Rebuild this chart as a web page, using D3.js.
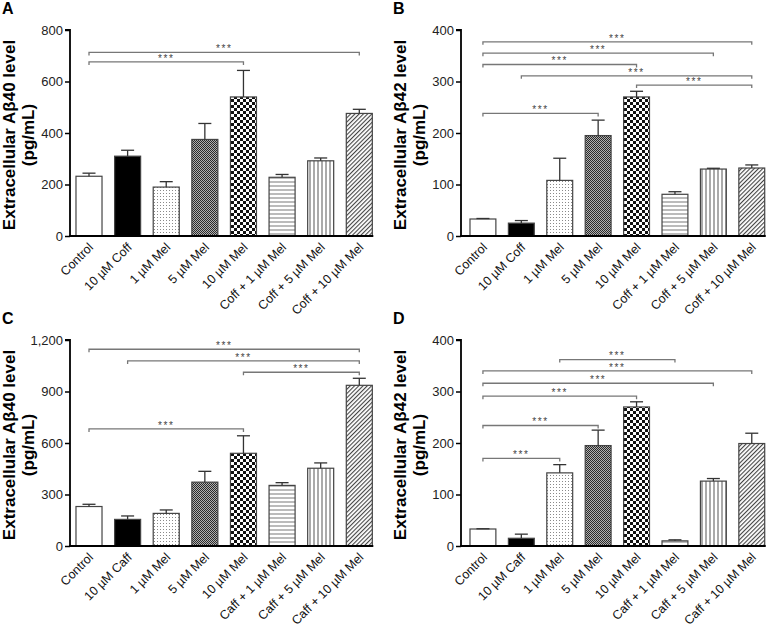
<!DOCTYPE html>
<html>
<head>
<meta charset="utf-8">
<script src="https://cdn.jsdelivr.net/npm/d3@7"></script>
<style>
  html, body { margin: 0; padding: 0; background: #fff; }
  svg { display: block; font-family: "Liberation Sans", Arial, Helvetica, sans-serif; }
</style>
</head>
<body>
<svg id="chart" width="774" height="629"></svg>
<script>
// ---------------- DATA ----------------
const categoriesAB = ["Control", "10 µM Coff", "1 µM Mel", "5 µM Mel", "10 µM Mel", "Coff + 1 µM Mel", "Coff + 5 µM Mel", "Coff + 10 µM Mel"];
const categoriesCD = ["Control", "10 µM Caff", "1 µM Mel", "5 µM Mel", "10 µM Mel", "Caff + 1 µM Mel", "Caff + 5 µM Mel", "Caff + 10 µM Mel"];

const valuesA = [232, 310, 190, 375, 540, 228, 292, 476];
const errorsA = [12, 23, 21, 62, 103, 11, 11, 16];
const valuesB = [33, 25, 108, 195, 270, 81, 130, 132];
const errorsB = [1, 5, 43, 30, 11, 5, 1.5, 6];
const valuesC = [230, 155, 190, 372, 540, 353, 453, 936];
const errorsC = [13, 20, 20, 63, 102, 16, 31, 41];
const valuesD = [33, 15, 142, 195, 270, 10, 126, 199];
const errorsD = [0.5, 8, 16, 30, 10, 2, 5, 20];

const ticksA = [0, 200, 400, 600, 800];
const ticksB = [0, 100, 200, 300, 400];
const ticksC = [0, 300, 600, 900, 1200];
const ticksD = [0, 100, 200, 300, 400];

// significance brackets: [from index, to index, level in data units]
const bracketsA = [[0, 7, 713], [0, 4, 676]];
const bracketsB = [[0, 7, 377], [0, 6, 355], [0, 4, 333], [1, 7, 311], [4, 7, 293], [0, 3, 238]];
const bracketsC = [[0, 7, 1146], [1, 7, 1078], [4, 7, 1012], [0, 4, 682]];
const bracketsD = [[2, 5, 362], [0, 7, 340], [0, 6, 316], [0, 4, 291], [0, 3, 234], [0, 2, 170]];

const panelLetters = ["A", "B", "C", "D"];
const yTitles = ["Extracellular Aβ40 level", "Extracellular Aβ42 level", "Extracellular Aβ40 level", "Extracellular Aβ42 level"];
const yUnit = "(pg/mL)";
const sigLabel = "***";

// ---------------- DRAW ----------------
const svg = d3.select("#chart");
const defs = svg.append("defs");

// patterns
function pat(id, w, h, build, transform) {
  const p = defs.append("pattern").attr("id", id).attr("patternUnits", "userSpaceOnUse")
    .attr("width", w).attr("height", h);
  if (transform) p.attr("patternTransform", transform);
  p.append("rect").attr("width", w).attr("height", h).attr("fill", "#fff");
  build(p);
}
pat("pDots", 3, 3, p => p.append("rect").attr("x", 1).attr("y", 1).attr("width", 1).attr("height", 1).attr("fill", "#8a8a8a"));
pat("pFine", 2, 2, p => {
  p.append("rect").attr("width", 2).attr("height", 2).attr("fill", "#b0b0b0");
  p.append("rect").attr("x", 0).attr("y", 0).attr("width", 1).attr("height", 1).attr("fill", "#2a2a2a");
  p.append("rect").attr("x", 1).attr("y", 1).attr("width", 1).attr("height", 1).attr("fill", "#2a2a2a");
});
pat("pChecker", 6, 6, p => {
  p.append("rect").attr("x", 0).attr("y", 0).attr("width", 3).attr("height", 3).attr("fill", "#111");
  p.append("rect").attr("x", 3).attr("y", 3).attr("width", 3).attr("height", 3).attr("fill", "#111");
});
pat("pHoriz", 4, 4, p => p.append("rect").attr("x", 0).attr("y", 1.5).attr("width", 4).attr("height", 1).attr("fill", "#777"));
pat("pVert", 4, 4, p => p.append("rect").attr("x", 1.5).attr("y", 0).attr("width", 1).attr("height", 4).attr("fill", "#555"));
pat("pDiag", 3, 3, p => p.append("rect").attr("x", 1).attr("y", 0).attr("width", 1.1).attr("height", 3).attr("fill", "#444"), "rotate(45)");

const fills = ["#ffffff", "#000000", "url(#pDots)", "url(#pFine)", "url(#pChecker)", "url(#pHoriz)", "url(#pVert)", "url(#pDiag)"];

const panels = [
  { cats: categoriesAB, vals: valuesA, errs: errorsA, ticks: ticksA, br: bracketsA, ax: 70, top: 30, bottom: 236, end: 378.3, po: 0.155, fmt: d3.format("d") },
  { cats: categoriesAB, vals: valuesB, errs: errorsB, ticks: ticksB, br: bracketsB, ax: 461, top: 30, bottom: 236, end: 773.7, po: 0.234, fmt: d3.format("d") },
  { cats: categoriesCD, vals: valuesC, errs: errorsC, ticks: ticksC, br: bracketsC, ax: 70, top: 340, bottom: 546, end: 378.3, po: 0.155, fmt: d3.format(",") },
  { cats: categoriesCD, vals: valuesD, errs: errorsD, ticks: ticksD, br: bracketsD, ax: 461, top: 340, bottom: 546, end: 773.7, po: 0.234, fmt: d3.format("d") }
];

panels.forEach((P, pi) => {
  const g = svg.append("g");
  const x = d3.scaleBand().domain(P.cats).range([P.ax, P.end]).paddingInner(0.326).paddingOuter(P.po);
  const y = d3.scaleLinear().domain([0, d3.max(P.ticks)]).range([P.bottom, P.top]);
  const bw = x.bandwidth();

  // panel letter
  g.append("text").attr("x", P.ax - 68).attr("y", P.top - 16).attr("font-size", 16).attr("font-weight", "bold")
    .text(panelLetters[pi]);

  // y title
  const ty = (P.top + P.bottom) / 2 + 2;
  g.append("text").attr("transform", `translate(${P.ax - 55},${ty}) rotate(-90)`).attr("text-anchor", "middle")
    .attr("font-size", 17).attr("font-weight", "bold").text(yTitles[pi]);
  g.append("text").attr("transform", `translate(${P.ax - 36},${ty}) rotate(-90)`).attr("text-anchor", "middle")
    .attr("font-size", 17).attr("font-weight", "bold").text(yUnit);

  // bars
  P.cats.forEach((c, i) => {
    g.append("rect").attr("x", x(c)).attr("y", y(P.vals[i])).attr("width", bw)
      .attr("height", y(0) - y(P.vals[i])).attr("fill", fills[i])
      .attr("stroke", "#444").attr("stroke-width", 1.2);
  });
  // error bars (upper)
  P.cats.forEach((c, i) => {
    const cx = x(c) + bw / 2;
    const yt = y(P.vals[i] + P.errs[i]);
    g.append("line").attr("x1", cx).attr("x2", cx).attr("y1", y(P.vals[i])).attr("y2", yt)
      .attr("stroke", "#333").attr("stroke-width", 1.3);
    g.append("line").attr("x1", cx - 6.5).attr("x2", cx + 6.5).attr("y1", yt).attr("y2", yt)
      .attr("stroke", "#333").attr("stroke-width", 1.3);
  });

  // y axis
  const yAxis = d3.axisLeft(y).tickValues(P.ticks).tickFormat(P.fmt).tickSize(5).tickPadding(2);
  const ya = g.append("g").attr("transform", `translate(${P.ax},0)`).call(yAxis);
  ya.select(".domain").attr("stroke", "#000").attr("stroke-width", 1.8).attr("d", `M-5,${P.top}H0V${P.bottom}`);
  ya.selectAll(".tick line").attr("stroke", "#000").attr("stroke-width", 1.5);
  ya.selectAll(".tick text").attr("font-size", 13).attr("fill", "#222")
    .attr("font-family", "'Liberation Sans', Arial, sans-serif");

  // x axis line
  const lastRight = x(P.cats[P.cats.length - 1]) + bw;
  g.append("line").attr("x1", P.ax - 1).attr("x2", lastRight + 1).attr("y1", P.bottom).attr("y2", P.bottom)
    .attr("stroke", "#000").attr("stroke-width", 2);

  // x labels
  P.cats.forEach((c, i) => {
    const cx = x(c) + bw / 2;
    g.append("text").attr("transform", `translate(${cx + 5},${P.bottom + 12}) rotate(-45)`)
      .attr("text-anchor", "end").attr("font-size", 12.5).attr("fill", "#111").text(c);
  });

  // significance brackets
  P.br.forEach(([a, b, lvl]) => {
    const xa = x(P.cats[a]) + bw / 2;
    const xb = x(P.cats[b]) + bw / 2;
    const yl = y(lvl);
    g.append("path").attr("d", `M${xa},${yl + 3}V${yl}H${xb}V${yl + 3}`)
      .attr("fill", "none").attr("stroke", "#777").attr("stroke-width", 1.3);
    g.append("text").attr("x", (xa + xb) / 2).attr("y", yl - 0.3).attr("text-anchor", "middle")
      .attr("font-size", 10).attr("letter-spacing", 1.6).attr("fill", "#444").text(sigLabel);
  });
});
</script>
</body>
</html>
